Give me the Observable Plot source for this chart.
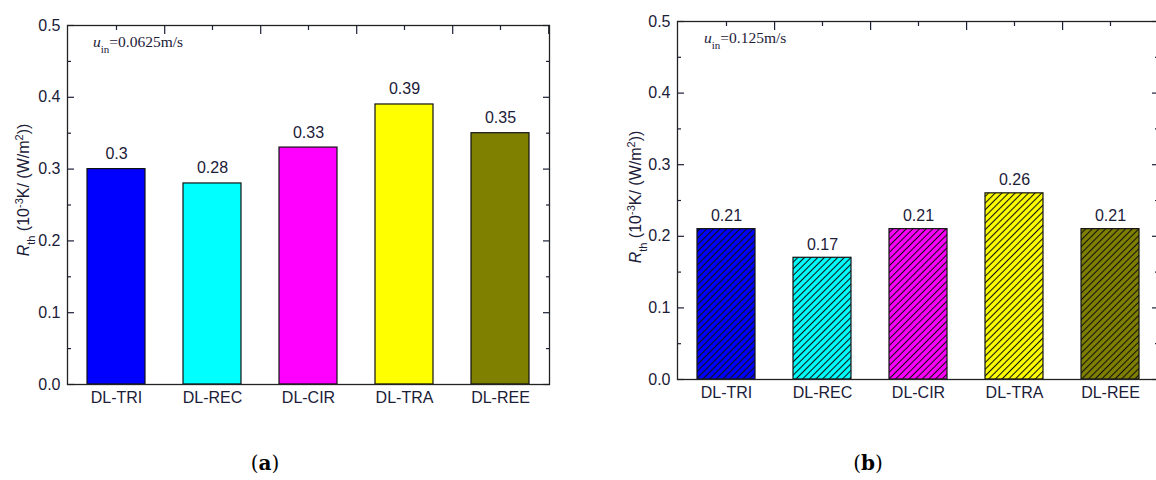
<!DOCTYPE html>
<html>
<head>
<meta charset="utf-8">
<script src="https://cdn.jsdelivr.net/npm/d3@7"></script>
<script src="https://cdn.jsdelivr.net/npm/@observablehq/plot@0.6"></script>
<style>
  html, body { margin: 0; padding: 0; background: #fff; width: 1156px; height: 480px; overflow: hidden; position: relative; }
  .panel { position: absolute; top: 0; width: 600px; height: 420px; }
  .panel svg { max-width: none !important; }
  .cap { position: absolute; transform: translate(-50%, -50%); font-family: "DejaVu Serif", "Liberation Serif", serif; font-size: 20px; color: #000; white-space: nowrap; }
</style>
</head>
<body>
<div id="panel-a" class="panel" style="left:0px"></div>
<div id="panel-b" class="panel" style="left:600px"></div>
<div class="cap" style="left:265px; top:463px">(<b>a</b>)</div>
<div class="cap" style="left:868px; top:463px">(<b>b</b>)</div>
<script>
// Channel geometries compared in both panels
const categories = ["DL-TRI", "DL-REC", "DL-CIR", "DL-TRA", "DL-REE"];
const barColors = ["#0000ff", "#00ffff", "#ff00ff", "#ffff00", "#808000"];

// Thermal resistance R_th (10^-3 K/(W/m^2)) at each inlet velocity
const rthLowVelocity = [0.3, 0.28, 0.33, 0.39, 0.35];   // u_in = 0.0625 m/s
const rthHighVelocity = [0.21, 0.17, 0.21, 0.26, 0.21];  // u_in = 0.125 m/s

const velocityLabels = ["0.0625m/s", "0.125m/s"];

// Axis ticks
const yMajorTicks = [0, 0.1, 0.2, 0.3, 0.4, 0.5];
const yMinorTicks = [0.05, 0.15, 0.25, 0.35, 0.45];

const ink = "#1b2038";
const valueFormat = d3.format(".2~f");

function drawPanel(target, cfg) {
  const {values, velocity, width, height, marginLeft, marginRight, marginTop, marginBottom,
         hatched, hatchId, labelX, labelY, noteX, noteY, valueDy} = cfg;
  const data = categories.map((c, i) => ({category: c, value: values[i], color: barColors[i]}));
  const step = (width - marginLeft - marginRight) / categories.length;

  const chart = Plot.plot({
    width, height, marginLeft, marginRight, marginTop, marginBottom,
    style: {fontFamily: "'Liberation Sans', Arial, sans-serif", fontSize: "16px", color: ink, background: "#fff", overflow: "visible", maxWidth: "none"},
    x: {domain: categories, paddingInner: 0.4, paddingOuter: 0.2, label: null},
    y: {domain: [0, 0.5], label: null},
    color: {type: "identity"},
    marks: [
      Plot.barY(data, {x: "category", y: "value", fill: "color"}),
      Plot.barY(data, {x: "category", y: "value", fill: hatched ? `url(#${hatchId})` : "none", stroke: "#111", strokeWidth: 1.2}),
      Plot.text(data, {x: "category", y: "value", text: d => valueFormat(d.value), lineAnchor: "bottom", dy: valueDy, fill: ink, fontSize: 16}),
      // left axis: labels outside, ticks pointing inward
      Plot.axisY(yMajorTicks, {anchor: "left", tickSize: 0, tickPadding: 7, tickFormat: d3.format(".1f"), fontSize: 16}),
      Plot.axisY(yMajorTicks, {anchor: "left", tickSize: -7, text: null, strokeWidth: 1.2}),
      Plot.axisY(yMinorTicks, {anchor: "left", tickSize: -4, text: null, strokeWidth: 1.2}),
      // right axis: inward ticks only
      Plot.axisY(yMajorTicks, {anchor: "right", tickSize: -7, text: null, strokeWidth: 1.2}),
      Plot.axisY(yMinorTicks, {anchor: "right", tickSize: -4, text: null, strokeWidth: 1.2}),
      // category labels below, no ticks
      Plot.axisX({anchor: "bottom", tickSize: 0, tickPadding: 7, fontSize: 16}),
      // top axis: short ticks at bar centres, long ticks between bars
      Plot.axisX(categories, {anchor: "top", tickSize: -4, text: null, strokeWidth: 1.2}),
      Plot.axisX(categories, {anchor: "top", tickSize: -8, text: null, dx: step / 2, strokeWidth: 1.2}),
      Plot.frame({stroke: "#222", strokeWidth: 1.3})
    ]
  });

  const svg = d3.select(chart);

  if (hatched) {
    const s = 4.7;
    const pattern = svg.insert("defs", ":first-child").append("pattern")
      .attr("id", hatchId)
      .attr("patternUnits", "userSpaceOnUse")
      .attr("width", s).attr("height", s)
      .attr("patternTransform", "rotate(45)");
    pattern.append("line")
      .attr("x1", s / 2).attr("y1", 0).attr("x2", s / 2).attr("y2", s)
      .attr("stroke", "#111").attr("stroke-width", 1.1);
  }

  // Y-axis title with subscript and superscripts
  const title = svg.append("text")
    .attr("transform", `translate(${labelX},${labelY}) rotate(-90)`)
    .attr("text-anchor", "middle")
    .attr("fill", ink)
    .style("font-family", "'Liberation Sans', Arial, sans-serif")
    .style("font-size", "16px");
  title.append("tspan").attr("font-style", "italic").text("R");
  title.append("tspan").attr("baseline-shift", "sub").attr("font-size", "11px").text("th");
  title.append("tspan").text(" (10");
  title.append("tspan").attr("baseline-shift", "super").attr("font-size", "11px").text("-3");
  title.append("tspan").text("K/ (W/m");
  title.append("tspan").attr("baseline-shift", "super").attr("font-size", "11px").text("2");
  title.append("tspan").text("))");

  // Inlet velocity note
  const note = svg.append("text")
    .attr("x", noteX).attr("y", noteY)
    .attr("text-anchor", "start")
    .attr("fill", ink)
    .style("font-family", "'Liberation Serif', 'Times New Roman', serif")
    .style("font-size", "15.5px");
  note.append("tspan").attr("font-style", "italic").text("u");
  note.append("tspan").attr("baseline-shift", "sub").attr("font-size", "11px").text("in");
  note.append("tspan").text("=" + velocity);

  document.getElementById(target).appendChild(chart);
}

drawPanel("panel-a", {
  values: rthLowVelocity, velocity: velocityLabels[0],
  width: 580, height: 420, marginLeft: 67, marginRight: 31, marginTop: 25, marginBottom: 36,
  hatched: false, labelX: 29, labelY: 190, noteX: 93, noteY: 47, valueDy: -10
});

drawPanel("panel-b", {
  values: rthHighVelocity, velocity: velocityLabels[1],
  width: 600, height: 420, marginLeft: 77, marginRight: 42, marginTop: 21, marginBottom: 41,
  hatched: true, hatchId: "hatch-b", labelX: 41, labelY: 197, noteX: 104, noteY: 43, valueDy: -8
});
</script>
</body>
</html>
